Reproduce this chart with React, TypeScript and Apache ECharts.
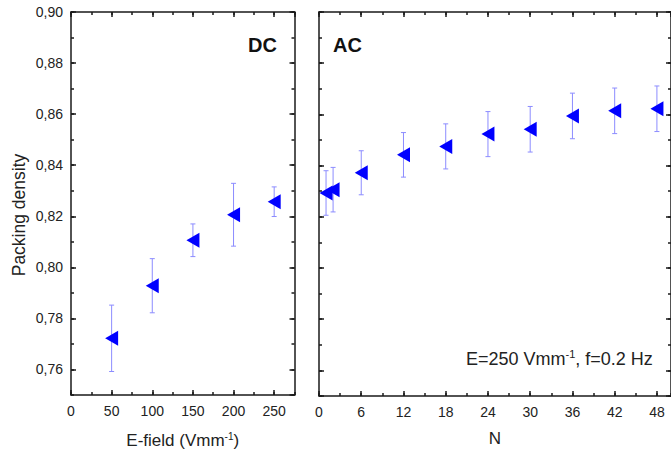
import React, { useEffect, useRef } from "react";
import * as echarts from "echarts";

const dcField = [50, 100, 150, 200, 250];
const dcDensity = [0.7722, 0.7928, 0.8106, 0.8206, 0.8257];
const dcError = [0.013, 0.0106, 0.0064, 0.0123, 0.0058];

const acN = [1, 2, 6, 12, 18, 24, 30, 36, 42, 48];
const acDensity = [0.8293, 0.8306, 0.8372, 0.8442, 0.8475, 0.8523, 0.8542, 0.8594, 0.8614, 0.8622];
const acError = [0.0087, 0.0087, 0.0086, 0.0087, 0.0088, 0.0088, 0.0089, 0.0089, 0.0089, 0.0089];

const FONT = "Liberation Sans, Arial, sans-serif";
const TEXT = "#222";
const LINE = "#1a1a1a";
const MARK = "#0000ff";
const ERR = "#8c8cff";

function xAx(grid: number, max: number, interval: number, pos: string, major: boolean, labels: boolean, extra: any = {}) {
  return {
    type: "value",
    gridIndex: grid,
    position: pos,
    min: 0,
    max,
    interval,
    axisLine: { show: major, onZero: false, lineStyle: { color: LINE, width: 1.5 } },
    axisTick: { show: true, inside: true, length: major ? 5 : 3, lineStyle: { color: LINE, width: 1.5 } },
    axisLabel: labels
      ? { show: true, showMaxLabel: false, margin: 9, color: TEXT, fontSize: 14, fontFamily: FONT }
      : { show: false },
    splitLine: { show: false },
    ...extra,
  };
}

function yAx(grid: number, pos: string, major: boolean, labels: boolean, extra: any = {}) {
  const base: any = {
    type: "value",
    gridIndex: grid,
    position: pos,
    min: 0.75,
    max: 0.9,
    axisLine: { show: major, onZero: false, lineStyle: { color: LINE, width: 1.5 } },
    axisTick: { show: true, inside: true, length: major ? 5 : 3, lineStyle: { color: LINE, width: 1.5 } },
    axisLabel: labels
      ? {
          show: true,
          showMinLabel: false,
          margin: 8,
          color: TEXT,
          fontSize: 14,
          fontFamily: FONT,
          formatter: (v: number) => v.toFixed(2).replace(".", ","),
        }
      : { show: false },
    splitLine: { show: false },
    ...extra,
  };
  if (major) base.splitNumber = 7;
  else base.interval = 0.01;
  return base;
}

function errorBars(data: number[][], xi: number, yi: number) {
  return {
    type: "custom",
    xAxisIndex: xi,
    yAxisIndex: yi,
    z: 1,
    encode: { x: 0, y: [1, 2] },
    data,
    renderItem: (params: any, api: any) => {
      const x = api.value(0);
      const lo = api.value(1);
      const hi = api.value(2);
      const p1 = api.coord([x, hi]);
      const p2 = api.coord([x, lo]);
      const w = 2.5;
      const style = { stroke: ERR, lineWidth: 1 };
      return {
        type: "group",
        children: [
          { type: "line", shape: { x1: p1[0], y1: p1[1], x2: p2[0], y2: p2[1] }, style },
          { type: "line", shape: { x1: p1[0] - w, y1: p1[1], x2: p1[0] + w, y2: p1[1] }, style },
          { type: "line", shape: { x1: p2[0] - w, y1: p2[1], x2: p2[0] + w, y2: p2[1] }, style },
        ],
      };
    },
  };
}

function markers(data: number[][], xi: number, yi: number) {
  return {
    type: "scatter",
    xAxisIndex: xi,
    yAxisIndex: yi,
    z: 2,
    symbol: "triangle",
    symbolRotate: 90,
    symbolSize: [15, 13],
    itemStyle: { color: MARK, opacity: 1 },
    data,
  };
}

export default function App() {
  const ref = useRef<HTMLDivElement>(null);
  useEffect(() => {
    if (!ref.current) return;
    const chart = echarts.init(ref.current, null, { renderer: "svg" });
    const dcPts = dcField.map((x, i) => [x, dcDensity[i]]);
    const dcErr = dcField.map((x, i) => [x, dcDensity[i] - dcError[i], dcDensity[i] + dcError[i]]);
    const acPts = acN.map((x, i) => [x, acDensity[i]]);
    const acErr = acN.map((x, i) => [x, acDensity[i] - acError[i], acDensity[i] + acError[i]]);

    const nameStyle = { color: TEXT, fontSize: 17, fontFamily: FONT };
    chart.setOption({
      animation: false,
      backgroundColor: "#fff",
      grid: [
        { left: 71, top: 12, width: 223.5, height: 384 },
        { left: 319, top: 12, width: 353, height: 384 },
      ],
      xAxis: [
        xAx(0, 275, 50, "bottom", true, true, {
          name: "{a|E-field (Vmm}{s|-1}{a|)}",
          nameLocation: "middle",
          nameGap: 36,
          nameTextStyle: {
            ...nameStyle,
            rich: {
              a: { fontSize: 17, fontFamily: FONT, color: TEXT },
              s: { fontSize: 10, fontFamily: FONT, color: TEXT, padding: [0, 0, 9, 0] },
            },
          },
        }),
        xAx(0, 275, 25, "bottom", false, false),
        xAx(0, 275, 50, "top", true, false),
        xAx(0, 275, 25, "top", false, false),
        xAx(1, 50, 6, "bottom", true, true, {
          name: "N",
          nameLocation: "middle",
          nameGap: 34,
          nameTextStyle: nameStyle,
        }),
        xAx(1, 50, 3, "bottom", false, false),
        xAx(1, 50, 6, "top", true, false),
        xAx(1, 50, 3, "top", false, false),
      ],
      yAxis: [
        yAx(0, "left", true, true),
        yAx(0, "left", false, false),
        yAx(0, "right", true, false),
        yAx(0, "right", false, false),
        yAx(1, "left", true, false),
        yAx(1, "left", false, false),
        yAx(1, "right", true, false),
        yAx(1, "right", false, false),
      ],
      graphic: [
        {
          type: "text",
          x: 18.5,
          y: 215,
          rotation: Math.PI / 2,
          style: {
            text: "Packing density",
            fontSize: 17.5,
            fontFamily: FONT,
            fill: TEXT,
            align: "center",
            verticalAlign: "middle",
          },
        },
        {
          type: "text",
          x: 277,
          y: 45,
          style: { text: "DC", fontSize: 20, fontWeight: "bold", fontFamily: FONT, fill: "#111", align: "right", verticalAlign: "middle" },
        },
        {
          type: "text",
          x: 333,
          y: 45,
          style: { text: "AC", fontSize: 20, fontWeight: "bold", fontFamily: FONT, fill: "#111", align: "left", verticalAlign: "middle" },
        },
        {
          type: "text",
          x: 466,
          y: 359,
          style: {
            text: "{a|E=250 Vmm}{s|-1}{a|, f=0.2 Hz}",
            align: "left",
            verticalAlign: "middle",
            rich: {
              a: { fontSize: 18, fontFamily: FONT, fill: TEXT },
              s: { fontSize: 11, fontFamily: FONT, fill: TEXT, padding: [0, 0, 10, 0] },
            },
          },
        },
      ],
      series: [
        errorBars(dcErr, 0, 0),
        markers(dcPts, 0, 0),
        errorBars(acErr, 4, 4),
        markers(acPts, 4, 4),
      ],
    });
    return () => chart.dispose();
  }, []);
  return <div ref={ref} style={{ position: "absolute", left: 0, top: 0, width: 671, height: 454 }} />;
}
